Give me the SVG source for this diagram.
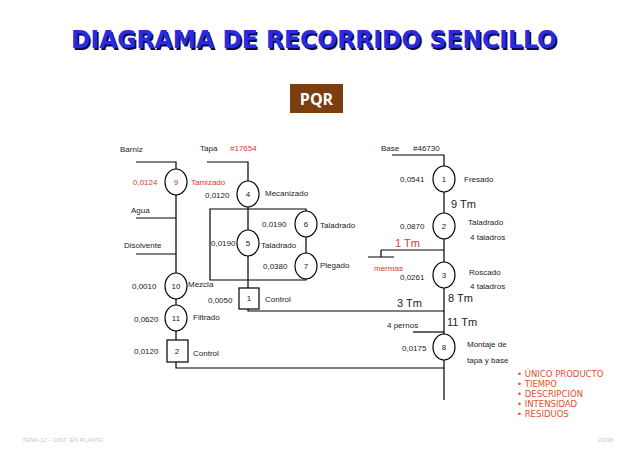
<svg xmlns="http://www.w3.org/2000/svg" width="638" height="451" viewBox="0 0 638 451">
<style>
.t{font-family:"Liberation Sans",Arial,sans-serif;font-size:8px;fill:#222}
.tm{font-family:"Liberation Sans",Arial,sans-serif;font-size:11px;fill:#222}
.ln{fill:none;stroke:#000;stroke-width:1.2}
.nd{fill:#fff;stroke:#000;stroke-width:1.2}
.ct{font-family:"Liberation Sans",Arial,sans-serif;font-size:8px;fill:#222;text-anchor:middle}
text.r{fill:#d83a2e}
.bl{font-family:"DejaVu Sans",sans-serif;font-size:8.5px;fill:#e0502a}
</style>
<rect width="638" height="451" fill="#fff"/>
<g id="title">
<text x="72.5" y="49.5" font-family="'DejaVu Sans',sans-serif" font-weight="bold" font-size="24" fill="#0a0a50" textLength="486" lengthAdjust="spacingAndGlyphs">DIAGRAMA DE RECORRIDO SENCILLO</text>
<text x="71" y="48" font-family="'DejaVu Sans',sans-serif" font-weight="bold" font-size="24" fill="#2a2ae0" textLength="486" lengthAdjust="spacingAndGlyphs">DIAGRAMA DE RECORRIDO SENCILLO</text>
</g>
<g id="pqr">
<rect x="290" y="84" width="53" height="29" fill="#7a3e10"/>
<text x="316.5" y="105" text-anchor="middle" font-family="'Open Sans','DejaVu Sans',sans-serif" font-weight="bold" font-size="16" fill="#fff">PQR</text>
</g>
<g id="connectors">
<path class="ln" d="M136,162 H176 V368 H444"/>
<path class="ln" d="M136,218 H176 M136,254 H176"/>
<path class="ln" d="M207,162 H248 V311 H444"/>
<path class="ln" d="M210,209 H306 V280 H210 Z"/>
<path class="ln" d="M392,155 H444 V400"/>
<path class="ln" d="M381,250 H444 M381,250 V257 M368,257 H394"/>
<path class="ln" d="M413,332 H444"/>
</g>
<g id="n9"><ellipse class="nd" cx="176" cy="182" rx="11" ry="13"/><text class="ct r" x="176" y="185">9</text></g>
<g id="n10"><ellipse class="nd" cx="176" cy="286" rx="11" ry="13"/><text class="ct" x="176" y="289">10</text></g>
<g id="n11"><ellipse class="nd" cx="176" cy="318" rx="11" ry="13"/><text class="ct" x="176" y="321">11</text></g>
<g id="s2"><rect class="nd" x="167" y="340" width="21" height="22"/><text class="ct" x="177" y="354">2</text></g>
<g id="n4"><ellipse class="nd" cx="248" cy="194" rx="11" ry="13"/><text class="ct" x="248" y="197">4</text></g>
<g id="n5"><ellipse class="nd" cx="248" cy="243" rx="11" ry="13"/><text class="ct" x="248" y="246">5</text></g>
<g id="n6"><ellipse class="nd" cx="306" cy="224" rx="11" ry="13"/><text class="ct" x="306" y="227">6</text></g>
<g id="n7"><ellipse class="nd" cx="306" cy="266" rx="11" ry="13"/><text class="ct" x="306" y="269">7</text></g>
<g id="s1"><rect class="nd" x="239" y="288" width="20" height="21"/><text class="ct" x="249" y="301">1</text></g>
<g id="r1"><ellipse class="nd" cx="444" cy="179" rx="11" ry="13"/><text class="ct" x="444" y="182">1</text></g>
<g id="r2"><ellipse class="nd" cx="444" cy="226" rx="11" ry="13"/><text class="ct" x="444" y="229">2</text></g>
<g id="r3"><ellipse class="nd" cx="444" cy="275" rx="11" ry="13"/><text class="ct" x="444" y="278">3</text></g>
<g id="r8"><ellipse class="nd" cx="444" cy="347" rx="11" ry="13"/><text class="ct" x="444" y="350">8</text></g>
<g id="labels">
<text class="t" x="120" y="152">Barniz</text>
<text class="t r" x="133" y="185">0,0124</text>
<text class="t r" x="191" y="185">Tamizado</text>
<text class="t" x="131" y="213">Agua</text>
<text class="t" x="124" y="248">Disolvente</text>
<text class="t" x="132" y="289">0,0010</text>
<text class="t" x="188" y="287">Mezcla</text>
<text class="t" x="134" y="322">0,0620</text>
<text class="t" x="193" y="320">Filtrado</text>
<text class="t" x="134" y="354">0,0120</text>
<text class="t" x="193" y="356">Control</text>
<text class="t" x="200" y="151">Tapa</text>
<text class="t r" x="230" y="151">#17654</text>
<text class="t" x="205" y="198">0,0120</text>
<text class="t" x="265" y="196">Mecanizado</text>
<text class="t" x="262" y="227">0,0190</text>
<text class="t" x="320" y="228">Taladrado</text>
<text class="t" x="211" y="246">0,0190</text>
<text class="t" x="261" y="248">Taladrado</text>
<text class="t" x="263" y="269">0,0380</text>
<text class="t" x="320" y="268">Plegado</text>
<text class="t" x="208" y="303">0,0050</text>
<text class="t" x="265" y="302">Control</text>
<text class="t" x="381" y="151">Base</text>
<text class="t" x="413" y="151">#46730</text>
<text class="t" x="400" y="182">0,0541</text>
<text class="t" x="464" y="182">Fresado</text>
<text class="tm" x="451" y="208">9 Tm</text>
<text class="t" x="400" y="229">0,0870</text>
<text class="t" x="468" y="225">Taladrado</text>
<text class="t" x="470" y="240">4 taladros</text>
<text class="tm r" x="395" y="247">1 Tm</text>
<text class="t r" x="374" y="271">mermas</text>
<text class="t" x="400" y="280">0,0261</text>
<text class="t" x="469" y="275">Roscado</text>
<text class="t" x="470" y="289">4 taladros</text>
<text class="tm" x="397" y="307">3 Tm</text>
<text class="tm" x="448" y="302">8 Tm</text>
<text class="tm" x="447" y="326">11 Tm</text>
<text class="t" x="387" y="328">4 pernos</text>
<text class="t" x="402" y="351">0,0175</text>
<text class="t" x="467" y="347">Montaje de</text>
<text class="t" x="467" y="363">tapa y base</text>
</g>
<g id="bullets">
<text class="bl" x="517" y="377">• ÚNICO PRODUCTO</text>
<text class="bl" x="517" y="387">• TIEMPO</text>
<text class="bl" x="517" y="397">• DESCRIPCIÓN</text>
<text class="bl" x="517" y="407">• INTENSIDAD</text>
<text class="bl" x="517" y="417">• RESIDUOS</text>
</g>
<g id="footer">
<text x="22" y="442" font-family="'Liberation Sans',sans-serif" font-size="6" fill="#c8c8c8">TEMA 12 – DIST. EN PLANTA</text>
<text x="598" y="442" font-family="'Liberation Sans',sans-serif" font-size="6" fill="#c8c8c8">23/38</text>
</g>
</svg>
